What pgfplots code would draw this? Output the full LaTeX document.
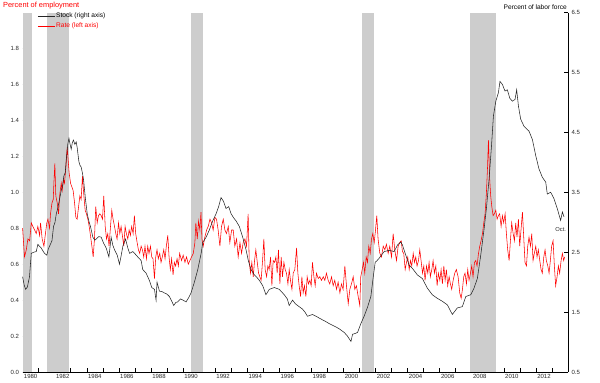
\documentclass[border=0pt]{standalone}
\usepackage{pgfplots}
\pgfplotsset{compat=1.18}
\usepackage{fontspec}
\setmainfont{Liberation Sans}
\definecolor{recgray}{RGB}{205,205,205}
\definecolor{ticktext}{RGB}{40,40,40}
\begin{document}
\begin{tikzpicture}
\pgfplotsset{
  base/.style={
    scale only axis, width=545.4pt, height=359.5pt,
    xmin=1980, xmax=2014,
    tick align=inside,
    major tick length=4pt, minor tick length=4pt,
    tick style={black, line width=0.5pt},
    tick label style={font=\fontsize{6}{7}\selectfont, text=ticktext},
    /pgf/number format/assume math mode=true,
    clip=false,
    legend style={anchor=west,
      draw=none, fill=none, inner sep=0pt,
      font=\fontsize{6.6}{7.5}\selectfont,
      nodes={inner sep=1pt},
      /tikz/every even column/.append style={column sep=3pt}},
    legend cell align=left,
  }
}
% ---------------- left axis: rate ----------------
\begin{axis}[base,
  ymin=0, ymax=2,
  axis x line*=bottom, axis y line*=left,
  y axis line style={draw=none},
  x axis line style={black, line width=0.6pt, -},
  ytick={0,0.2,...,1.8},
  yticklabel style={/pgf/number format/.cd, fixed, fixed zerofill, precision=1},
  xtick={1980.5,1982.5,1984.5,1986.5,1988.5,1990.5,1992.5,1994.5,1996.5,1998.5,2000.5,2002.5,2004.5,2006.5,2008.5,2010.5,2012.5},
  xticklabels={1980,1982,1984,1986,1988,1990,1992,1994,1996,1998,2000,2002,2004,2006,2008,2010,2012},
  major x tick style={draw=none},
  minor xtick={1981,1982,...,2013},
  xticklabel style={yshift=1pt},
  legend style={at={(axis description cs:0.027,0.9625)}},
]
% recession bars
\addplot[draw=none, fill=recgray, forget plot] coordinates {(1980.0,2) (1980.58,2)} \closedcycle;
\addplot[draw=none, fill=recgray, forget plot] coordinates {(1981.5,2) (1982.92,2)} \closedcycle;
\addplot[draw=none, fill=recgray, forget plot] coordinates {(1990.5,2) (1991.25,2)} \closedcycle;
\addplot[draw=none, fill=recgray, forget plot] coordinates {(2001.17,2) (2001.92,2)} \closedcycle;
\addplot[draw=none, fill=recgray, forget plot] coordinates {(2007.92,2) (2009.5,2)} \closedcycle;
% rate
\addplot[red, line width=0.55pt] table {
1980.00 0.80
1980.12 0.64
1980.23 0.68
1980.33 0.74
1980.44 0.73
1980.54 0.83
1980.64 0.81
1980.75 0.79
1980.85 0.77
1980.95 0.81
1981.06 0.76
1981.12 0.83
1981.22 0.74
1981.33 0.70
1981.41 0.76
1981.51 0.83
1981.58 0.85
1981.68 0.80
1981.74 0.88
1981.83 0.94
1981.91 0.96
1981.95 1.05
1982.01 1.16
1982.07 0.98
1982.16 0.94
1982.24 0.88
1982.32 0.99
1982.41 1.05
1982.47 1.01
1982.55 1.07
1982.61 1.05
1982.70 1.14
1982.78 1.25
1982.84 1.18
1982.90 1.11
1982.99 1.05
1983.07 1.03
1983.15 1.01
1983.24 0.94
1983.32 0.86
1983.40 0.85
1983.49 0.92
1983.57 0.98
1983.65 0.96
1983.73 1.09
1983.82 0.98
1983.90 0.90
1983.98 0.88
1984.07 0.85
1984.15 0.81
1984.23 0.76
1984.32 0.70
1984.40 0.64
1984.48 0.74
1984.56 0.92
1984.65 0.83
1984.73 0.87
1984.81 0.88
1984.90 0.87
1984.98 0.85
1985.06 0.98
1985.15 0.81
1985.23 0.74
1985.31 0.77
1985.39 0.70
1985.48 0.81
1985.56 0.90
1985.64 0.85
1985.73 0.81
1985.81 0.77
1985.89 0.74
1985.98 0.83
1986.06 0.77
1986.14 0.81
1986.22 0.76
1986.31 0.70
1986.39 0.81
1986.47 0.77
1986.56 0.74
1986.64 0.79
1986.72 0.76
1986.80 0.81
1986.89 0.77
1986.97 0.87
1987.05 0.77
1987.14 0.72
1987.22 0.68
1987.30 0.66
1987.39 0.70
1987.47 0.68
1987.55 0.64
1987.63 0.70
1987.72 0.63
1987.80 0.70
1987.88 0.66
1987.97 0.70
1988.05 0.64
1988.13 0.63
1988.22 0.52
1988.30 0.64
1988.38 0.68
1988.46 0.63
1988.55 0.66
1988.63 0.61
1988.71 0.64
1988.80 0.68
1988.88 0.63
1988.96 0.70
1989.05 0.76
1989.13 0.64
1989.21 0.57
1989.29 0.63
1989.38 0.54
1989.46 0.61
1989.54 0.59
1989.63 0.63
1989.71 0.59
1989.79 0.66
1989.91 0.62
1990.01 0.65
1990.12 0.61
1990.22 0.64
1990.33 0.60
1990.43 0.62
1990.53 0.64
1990.64 0.66
1990.74 0.72
1990.80 0.83
1990.89 0.74
1990.97 0.84
1991.05 0.79
1991.12 0.89
1991.18 0.74
1991.26 0.70
1991.36 0.75
1991.47 0.79
1991.57 0.81
1991.68 0.85
1991.78 0.83
1991.88 0.79
1991.99 0.86
1992.09 0.85
1992.19 0.79
1992.30 0.70
1992.40 0.81
1992.51 0.85
1992.61 0.79
1992.71 0.77
1992.82 0.81
1992.92 0.72
1993.03 0.79
1993.13 0.79
1993.23 0.70
1993.34 0.74
1993.44 0.64
1993.55 0.72
1993.65 0.66
1993.75 0.72
1993.86 0.74
1993.96 0.70
1994.06 0.88
1994.13 0.61
1994.21 0.55
1994.29 0.61
1994.38 0.53
1994.46 0.62
1994.54 0.68
1994.63 0.61
1994.71 0.55
1994.79 0.53
1994.87 0.51
1994.96 0.62
1995.04 0.74
1995.12 0.57
1995.21 0.53
1995.29 0.59
1995.37 0.57
1995.46 0.64
1995.54 0.48
1995.62 0.62
1995.71 0.61
1995.79 0.64
1995.87 0.55
1995.95 0.68
1996.04 0.49
1996.12 0.64
1996.20 0.53
1996.29 0.61
1996.37 0.57
1996.45 0.55
1996.54 0.49
1996.62 0.57
1996.70 0.51
1996.79 0.46
1996.87 0.55
1996.97 0.57
1997.08 0.69
1997.16 0.55
1997.24 0.48
1997.33 0.42
1997.41 0.53
1997.49 0.44
1997.57 0.48
1997.66 0.42
1997.74 0.53
1997.82 0.49
1997.91 0.51
1997.99 0.48
1998.07 0.61
1998.16 0.53
1998.24 0.48
1998.32 0.55
1998.43 0.52
1998.53 0.53
1998.63 0.51
1998.74 0.53
1998.84 0.51
1998.94 0.55
1999.05 0.51
1999.15 0.49
1999.26 0.53
1999.36 0.48
1999.46 0.51
1999.57 0.46
1999.67 0.50
1999.78 0.44
1999.88 0.49
1999.98 0.46
2000.09 0.59
2000.19 0.48
2000.30 0.38
2000.40 0.46
2000.50 0.49
2000.61 0.53
2000.71 0.46
2000.81 0.48
2000.92 0.42
2001.02 0.37
2001.08 0.53
2001.17 0.57
2001.25 0.61
2001.33 0.55
2001.42 0.64
2001.50 0.61
2001.58 0.70
2001.67 0.66
2001.75 0.74
2001.83 0.77
2001.92 0.72
2002.00 0.79
2002.08 0.87
2002.16 0.74
2002.27 0.66
2002.37 0.64
2002.48 0.70
2002.58 0.68
2002.68 0.71
2002.79 0.66
2002.89 0.70
2003.00 0.64
2003.10 0.77
2003.20 0.68
2003.31 0.62
2003.41 0.70
2003.51 0.72
2003.60 0.73
2003.68 0.67
2003.76 0.66
2003.85 0.57
2003.93 0.61
2004.01 0.64
2004.10 0.57
2004.18 0.62
2004.26 0.59
2004.35 0.66
2004.43 0.61
2004.51 0.64
2004.59 0.59
2004.68 0.62
2004.76 0.68
2004.84 0.62
2004.93 0.55
2005.01 0.59
2005.09 0.51
2005.18 0.59
2005.26 0.55
2005.34 0.61
2005.42 0.53
2005.51 0.57
2005.59 0.62
2005.67 0.55
2005.76 0.59
2005.84 0.48
2005.92 0.55
2006.01 0.51
2006.09 0.57
2006.17 0.49
2006.26 0.59
2006.34 0.51
2006.42 0.57
2006.50 0.48
2006.59 0.53
2006.67 0.49
2006.75 0.46
2006.84 0.51
2006.94 0.55
2007.04 0.57
2007.15 0.53
2007.25 0.44
2007.34 0.41
2007.42 0.46
2007.50 0.53
2007.58 0.55
2007.67 0.49
2007.75 0.57
2007.83 0.51
2007.92 0.55
2008.00 0.59
2008.08 0.53
2008.17 0.61
2008.25 0.62
2008.33 0.59
2008.42 0.66
2008.50 0.70
2008.58 0.73
2008.67 0.77
2008.75 0.83
2008.83 0.88
2008.91 0.99
2008.98 1.13
2009.04 1.29
2009.08 1.18
2009.12 1.07
2009.18 0.98
2009.25 0.92
2009.33 0.87
2009.41 0.88
2009.50 0.90
2009.58 0.85
2009.66 0.87
2009.74 0.88
2009.83 0.81
2009.91 0.87
2009.99 0.83
2010.08 0.88
2010.16 0.77
2010.24 0.68
2010.33 0.62
2010.41 0.73
2010.49 0.83
2010.58 0.77
2010.66 0.73
2010.74 0.83
2010.82 0.75
2010.91 0.85
2010.99 0.70
2011.07 0.79
2011.16 0.89
2011.24 0.75
2011.32 0.61
2011.41 0.59
2011.49 0.70
2011.57 0.75
2011.66 0.70
2011.74 0.77
2011.82 0.62
2011.90 0.66
2011.99 0.70
2012.07 0.64
2012.15 0.68
2012.24 0.62
2012.32 0.57
2012.40 0.55
2012.49 0.64
2012.57 0.68
2012.65 0.62
2012.74 0.59
2012.82 0.55
2012.90 0.62
2012.98 0.70
2013.07 0.73
2013.15 0.59
2013.23 0.48
2013.32 0.53
2013.40 0.59
2013.48 0.55
2013.57 0.62
2013.65 0.66
2013.73 0.62
2013.79 0.64
};
\addlegendentry{\textcolor{red}{Rate (left axis)}}
\node[anchor=west, text=red, font=\fontsize{7.4}{8.5}\selectfont, inner sep=0pt]
  at (rel axis cs:0,1) [xshift=-19.6pt, yshift=6.5pt] {Percent of employment};
\end{axis}
% ---------------- right axis: stock ----------------
\begin{axis}[base,
  ymin=0.5, ymax=6.5,
  axis x line=none, axis y line*=right,
  y axis line style={black, line width=0.6pt, -},
  ytick={0.5,1.5,...,6.5},
  yticklabel style={/pgf/number format/.cd, fixed, fixed zerofill, precision=1},
  legend style={at={(axis description cs:0.027,0.990)}},
]
\addplot[black!85, line width=0.55pt] table {
1980.00 2.09
1980.10 1.95
1980.19 1.88
1980.30 1.92
1980.43 2.09
1980.54 2.48
1980.70 2.50
1980.85 2.51
1980.95 2.63
1981.05 2.60
1981.16 2.57
1981.27 2.52
1981.37 2.48
1981.51 2.45
1981.60 2.55
1981.68 2.60
1981.83 2.69
1981.93 2.93
1982.02 3.00
1982.10 3.14
1982.20 3.24
1982.30 3.38
1982.41 3.53
1982.50 3.62
1982.57 3.77
1982.66 3.83
1982.72 4.04
1982.82 4.31
1982.89 4.40
1982.96 4.30
1983.03 4.22
1983.10 4.33
1983.17 4.37
1983.26 4.30
1983.34 4.34
1983.40 4.25
1983.51 4.01
1983.58 3.95
1983.65 3.92
1983.73 3.82
1983.80 3.71
1983.92 3.38
1984.03 3.14
1984.13 3.02
1984.23 2.93
1984.38 2.75
1984.50 2.70
1984.59 2.72
1984.75 2.76
1984.90 2.75
1985.05 2.65
1985.21 2.57
1985.38 2.42
1985.52 2.75
1985.62 2.62
1985.73 2.54
1985.90 2.45
1986.04 2.30
1986.15 2.45
1986.25 2.60
1986.42 2.72
1986.55 2.58
1986.67 2.48
1986.87 2.51
1987.05 2.46
1987.18 2.42
1987.39 2.36
1987.49 2.21
1987.70 2.15
1987.90 2.03
1988.05 1.91
1988.22 1.88
1988.32 1.70
1988.38 2.00
1988.53 1.85
1988.70 1.84
1988.84 1.82
1989.00 1.80
1989.15 1.76
1989.30 1.68
1989.42 1.61
1989.55 1.66
1989.67 1.67
1989.85 1.72
1990.00 1.70
1990.19 1.67
1990.35 1.74
1990.50 1.82
1990.71 2.00
1990.92 2.21
1991.13 2.48
1991.23 2.66
1991.44 2.75
1991.64 2.87
1991.85 3.02
1992.06 3.14
1992.22 3.26
1992.37 3.41
1992.52 3.35
1992.68 3.23
1992.85 3.26
1993.00 3.14
1993.14 3.08
1993.31 3.02
1993.51 2.93
1993.72 2.75
1993.93 2.54
1994.07 2.36
1994.24 2.21
1994.45 2.12
1994.60 2.08
1994.76 2.03
1994.97 1.94
1995.17 1.79
1995.38 1.88
1995.69 1.91
1996.00 1.88
1996.31 1.79
1996.50 1.72
1996.62 1.61
1996.83 1.70
1997.00 1.64
1997.14 1.61
1997.45 1.55
1997.60 1.50
1997.76 1.43
1998.07 1.46
1998.30 1.43
1998.49 1.40
1998.70 1.37
1998.91 1.34
1999.10 1.31
1999.32 1.28
1999.55 1.25
1999.74 1.22
2000.05 1.16
2000.25 1.10
2000.47 1.01
2000.57 1.13
2000.70 1.14
2000.88 1.16
2001.09 1.31
2001.29 1.43
2001.50 1.58
2001.71 1.76
2001.86 2.09
2001.98 2.33
2002.10 2.36
2002.23 2.40
2002.54 2.51
2002.85 2.53
2003.16 2.51
2003.37 2.62
2003.58 2.67
2003.68 2.62
2003.89 2.45
2004.10 2.28
2004.30 2.23
2004.61 2.12
2004.92 2.06
2005.23 1.90
2005.54 1.79
2005.85 1.73
2006.17 1.68
2006.48 1.62
2006.79 1.46
2007.10 1.57
2007.41 1.59
2007.63 1.76
2007.94 1.79
2008.14 1.90
2008.35 2.06
2008.56 2.45
2008.77 2.89
2008.91 3.22
2009.08 3.72
2009.23 4.27
2009.35 4.77
2009.50 5.02
2009.66 5.16
2009.76 5.35
2009.91 5.30
2010.07 5.19
2010.22 5.21
2010.37 5.07
2010.53 5.02
2010.70 5.05
2010.80 5.21
2010.91 4.94
2011.05 4.72
2011.26 4.60
2011.57 4.52
2011.78 4.38
2011.99 4.11
2012.19 3.89
2012.40 3.75
2012.61 3.67
2012.71 3.47
2012.92 3.50
2013.13 3.39
2013.34 3.22
2013.54 3.03
2013.65 3.17
2013.75 3.09
};
\addlegendentry{Stock (right axis)}
\node[font=\fontsize{5.8}{6.5}\selectfont, text=ticktext] at (axis cs:2013.55,2.88) {Oct.};
\node[anchor=east, font=\fontsize{6.6}{7.5}\selectfont, inner sep=0pt]
  at (rel axis cs:1,1) [xshift=-1pt, yshift=5.8pt] {Percent of labor force};
\end{axis}
\path (-22.6pt,-9pt) rectangle (577.4pt,372pt);
\end{tikzpicture}
\end{document}
